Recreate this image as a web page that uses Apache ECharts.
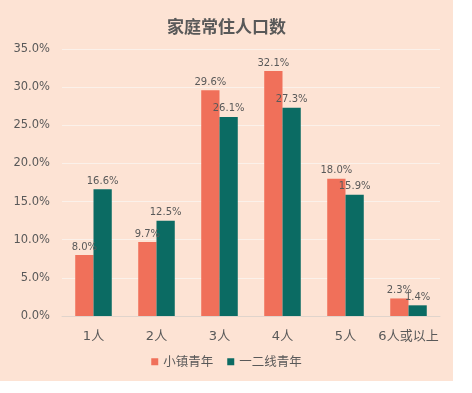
<!DOCTYPE html>
<html><head><meta charset="utf-8">
<script src="https://cdn.jsdelivr.net/npm/echarts@6/dist/echarts.min.js"></script>
<style>html,body{margin:0;padding:0;background:#fff;}#c{width:453px;height:381px;}</style>
</head><body><div id="c"></div>
<script>
const categories = ['1人','2人','3人','4人','5人','6人或以上'];
const townYouth = [8.0, 9.7, 29.6, 32.1, 18.0, 2.3];
const cityYouth = [16.6, 12.5, 26.1, 27.3, 15.9, 1.4];
const seriesNames = ['小镇青年','一二线青年'];
const yTicks = [0,5,10,15,20,25,30,35];

const font = '"DejaVu Sans","Noto Sans CJK SC",sans-serif';
const cjk = '"Noto Sans CJK SC","DejaVu Sans",sans-serif';
const chart = echarts.init(document.getElementById('c'));
const lbl = {show:true, position:'top', distance:3, color:'#595959', fontSize:10, fontFamily:font, formatter:p=>p.value.toFixed(1)+'%'};
chart.setOption({
  backgroundColor:'#fde3d4',
  title:{text:'家庭常住人口数', left:'center', top:13, textStyle:{fontSize:17, fontWeight:'bold', color:'#595959', fontFamily:cjk}},
  legend:{bottom:8, left:'center', itemWidth:7, itemHeight:7, itemGap:14, icon:'rect', textStyle:{color:'#595959', fontSize:12.5, fontFamily:cjk}, data:seriesNames},
  grid:{left:62, right:13, top:49, bottom:65},
  xAxis:{type:'category', data:categories, axisTick:{show:false}, axisLine:{lineStyle:{color:'#e0d4cc'}}, axisLabel:{interval:0, color:'#595959', fontSize:13, margin:14, fontFamily:font}},
  yAxis:{type:'value', min:yTicks[0], max:yTicks[yTicks.length-1], interval:5, axisLine:{show:false}, axisTick:{show:false}, splitLine:{lineStyle:{color:'#fbf1ea'}}, axisLabel:{color:'#595959', fontSize:11.5, margin:12, fontFamily:font, formatter:v=>v.toFixed(1)+'%'}},
  series:[
    {name:seriesNames[0], type:'bar', data:townYouth, barWidth:'29%', barGap:'0%', itemStyle:{color:'#f0705a'}, label:lbl},
    {name:seriesNames[1], type:'bar', data:cityYouth, barWidth:'29%', barGap:'0%', itemStyle:{color:'#0b6b63'}, label:lbl}
  ]
});
</script></body></html>
